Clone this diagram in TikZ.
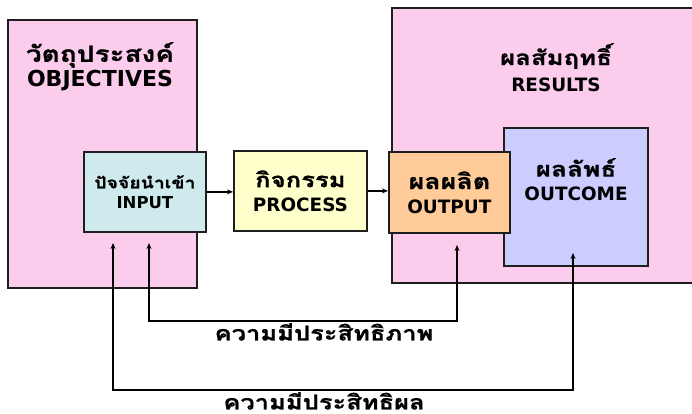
\documentclass[tikz,border=0pt]{standalone}
\usepackage{fontspec}
\usepackage{tikz}
\usetikzlibrary{arrows.meta, positioning}
\newfontfamily\latinfont{DejaVu Sans}
\newfontfamily\thaifont[Script=Thai, FakeStretch=1.25, BoldFeatures={FakeBold=0.8}]{Loma}
\newcommand{\thaitext}[2]{{\thaifont\bfseries\fontsize{#1}{#1}\selectfont #2}}
\definecolor{pinkbox}{RGB}{251,204,236}
\definecolor{inputcol}{RGB}{206,234,236}
\definecolor{processcol}{RGB}{255,255,204}
\definecolor{outputcol}{RGB}{255,204,153}
\definecolor{outcomecol}{RGB}{204,204,255}
\definecolor{edgecol}{RGB}{30,30,30}

\begin{document}
\begin{tikzpicture}[
  x=1pt, y=-1pt,
  >={Stealth[length=6pt,width=5pt]},
  box/.style={rectangle, draw=edgecol, line width=1.8pt, inner sep=0pt,
    anchor=north west, align=center},
  big/.style={font=\latinfont\bfseries\fontsize{22}{25}\selectfont},
  mid/.style={font=\latinfont\bfseries\fontsize{18.4}{24}\selectfont},
  small/.style={font=\latinfont\bfseries\fontsize{16.5}{20}\selectfont},
  title/.style={align=center, inner sep=0pt, anchor=north},
  link/.style={line width=1.6pt, draw=black}
]
  \useasboundingbox (0,0) rectangle (692,414);
  \clip (0,0) rectangle (692,414);

  % outer boxes
  \node[box, fill=pinkbox, minimum width=189pt, minimum height=268pt] (objectives) at (7,19) {};
  \node[box, fill=pinkbox, minimum width=320pt, minimum height=275pt] (results) at (391,7) {};
  \node[box, fill=outcomecol, minimum width=144pt, minimum height=138pt] (outcome) at (503,127) {};

  \node[title, big] (objtitle) at (100,42) {\thaitext{22.4}{วัตถุประสงค์}\\OBJECTIVES};
  \node[title, mid, font=\latinfont\bfseries\fontsize{18.4}{26}\selectfont] (restitle) at (556,43)
    {\thaitext{20.6}{ผลสัมฤทธิ์}\\RESULTS};
  \node[title, mid] (outtitle) at (576,158) {\thaitext{21}{ผลลัพธ์}\\OUTCOME};

  % chain
  \node[box, small, fill=inputcol, minimum width=122pt, minimum height=80pt] (input) at (83,151)
    {\thaitext{15.5}{ปัจจัยนำเข้า}\\INPUT};
  \node[box, mid, fill=processcol, minimum width=133pt, minimum height=80pt] (process) at (233,150)
    {\thaitext{20.5}{กิจกรรม}\\PROCESS};
  \node[box, mid, fill=outputcol, minimum width=121pt, minimum height=81pt] (output) at (388,151)
    {\thaitext{21.5}{ผลผลิต}\\OUTPUT};

  \draw[link, ->] (input.east) -- (input.east -| process.west);
  \draw[link, ->] (process.east) -- (process.east -| output.west);

  % feedback loops
  \coordinate (effin) at (149,243);
  \coordinate (effout) at (457,245);
  \coordinate (effrow) at (0,321);
  \coordinate (resin) at (113,243);
  \coordinate (resout) at (573,253);
  \coordinate (resrow) at (0,390);
  \draw[link, <->] (effin) -- (effin |- effrow) -| (effout);
  \draw[link, <->] (resin) -- (resin |- resrow) -| (resout);

  \node[title] (efficiency) at (324,323) {\thaitext{20.4}{ความมีประสิทธิภาพ}};
  \node[title] (effectiveness) at (324,392) {\thaitext{20.4}{ความมีประสิทธิผล}};
\end{tikzpicture}
\end{document}
